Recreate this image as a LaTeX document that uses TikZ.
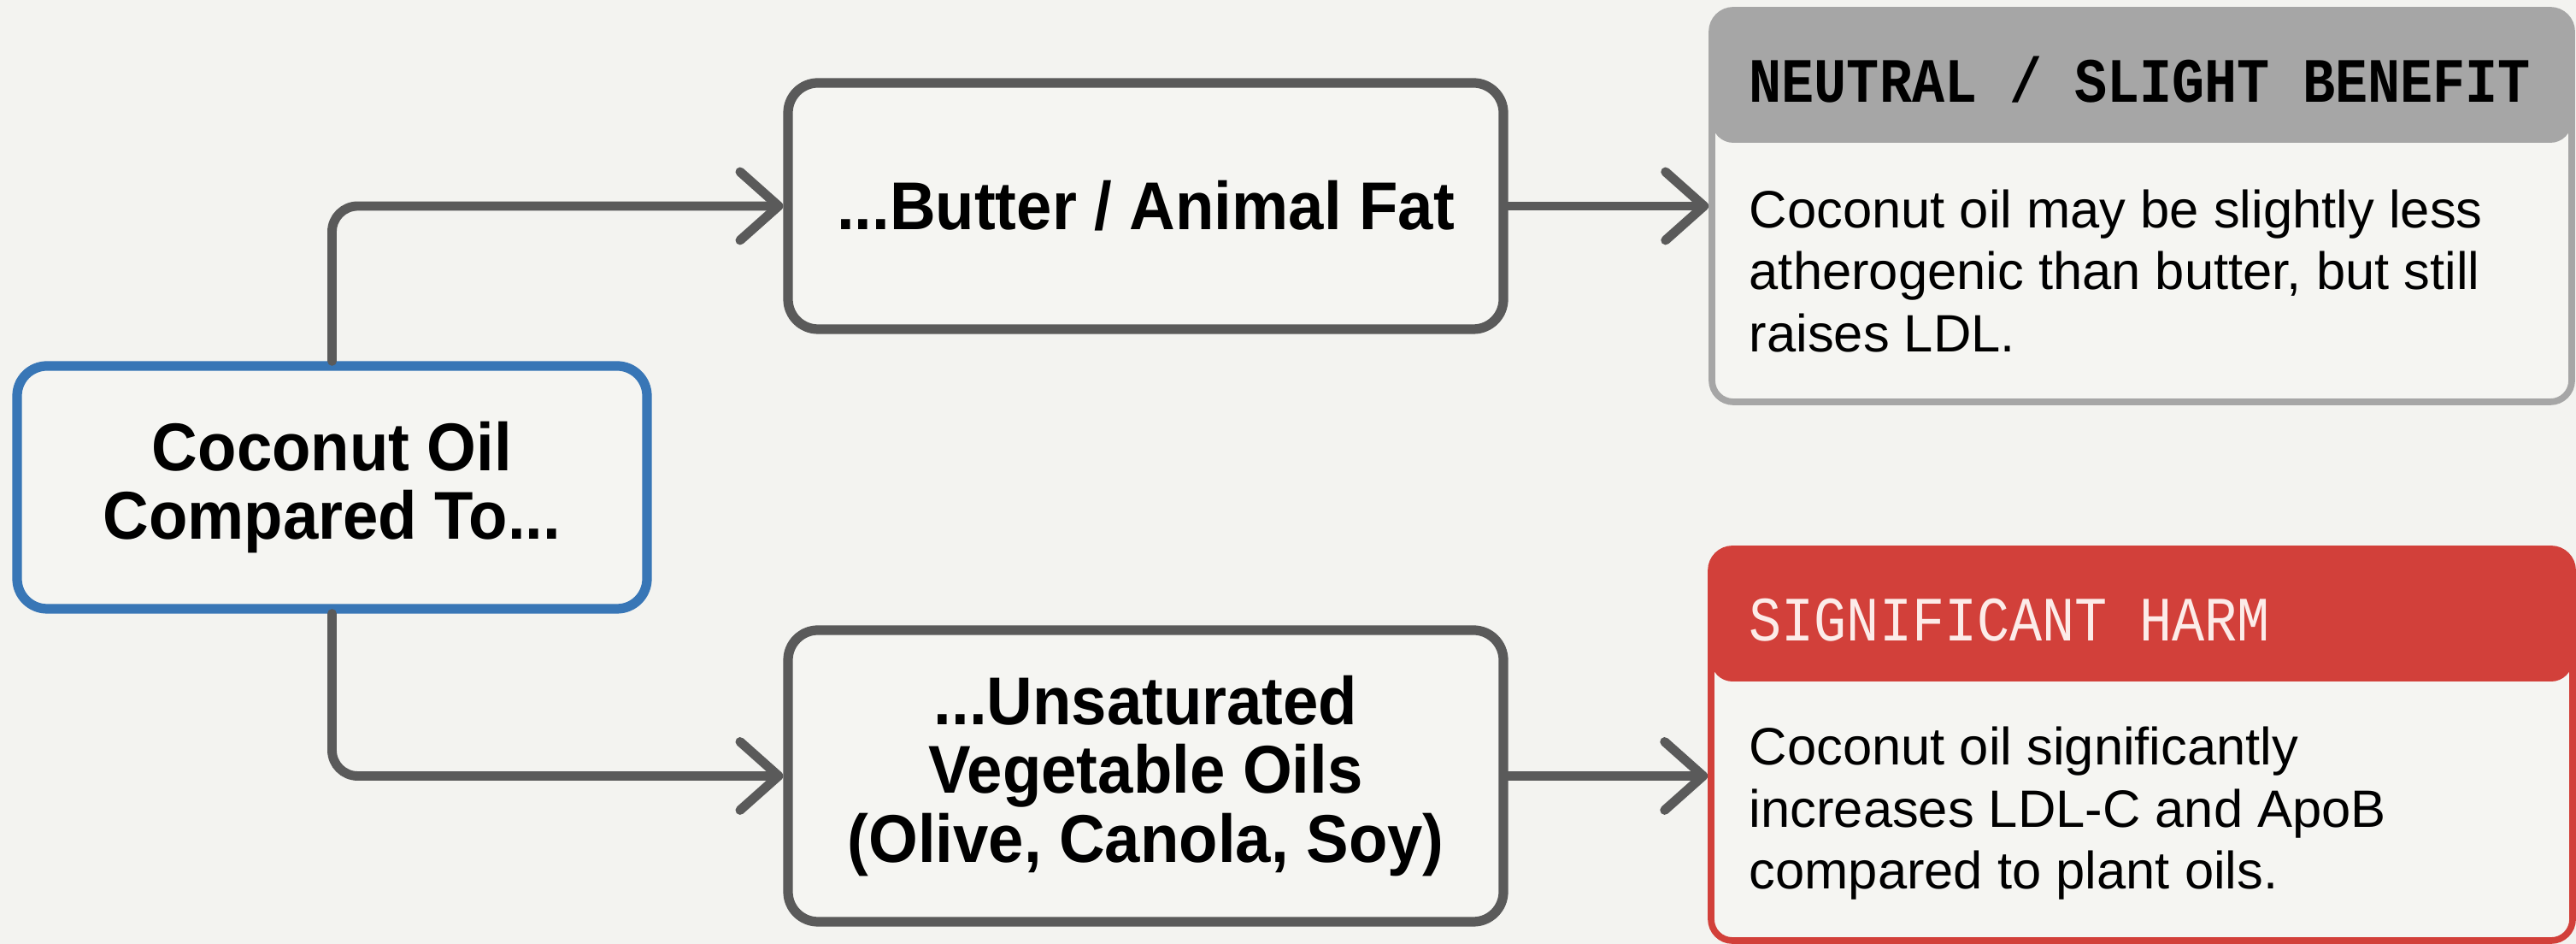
\documentclass[tikz,border=0pt]{standalone}
\usepackage{fontspec}
\setmainfont{Liberation Sans}
\newfontfamily\ttlfont[FakeStretch=0.94]{Liberation Sans}
\newfontfamily\hdfont[FakeStretch=0.86]{Liberation Mono}
\usetikzlibrary{arrows.meta}
\definecolor{bgcol}{RGB}{243,243,240}
\definecolor{boxfill}{RGB}{245,245,242}
\definecolor{linegray}{RGB}{90,90,90}
\definecolor{srcblue}{RGB}{56,118,182}
\definecolor{neutgray}{RGB}{166,166,166}
\definecolor{harmred}{RGB}{210,64,58}
\definecolor{harmhead}{RGB}{252,236,233}
\tikzset{
  stepbox/.style={draw=linegray, line width=3.2pt, fill=boxfill, rounded corners=0.35cm,
    align=center, inner sep=0pt, font=\ttlfont\bfseries\fontsize{22.5}{23}\selectfont},
  resbox/.style={draw=#1, line width=2.2pt, fill=boxfill, rounded corners=0.25cm,
    minimum width=10.06cm, minimum height=4.58cm,
    path picture={\fill[#1] (path picture bounding box.north west) rectangle
      ([yshift=-1.55cm]path picture bounding box.north east);}},
  hdtext/.style={anchor=base west, inner sep=0pt, font=\hdfont\bfseries\fontsize{21}{24}\selectfont},
  bodytext/.style={anchor=west, align=left, inner sep=0pt, font=\fontsize{17.5}{20.6}\selectfont},
  conn/.style={draw=linegray, line width=3.1pt, rounded corners=0.3cm, line cap=round, ->}
}

\begin{document}
\begin{tikzpicture}[>={Straight Barb[length=4.5mm,width=8mm,round]}]
\fill[bgcol] (0,0) rectangle (30.14,11.04);
\useasboundingbox (0,0) rectangle (30.14,11.04);
\node[stepbox, draw=srcblue, minimum width=7.37cm, minimum height=2.84cm] (src) at (3.885,5.34) {Coconut Oil\\Compared To...};
\node[stepbox, minimum width=8.37cm, minimum height=2.88cm] (butter) at (13.405,8.63) {...Butter / Animal Fat};
\node[stepbox, minimum width=8.37cm, minimum height=3.41cm] (veg) at (13.405,1.965) {...Unsaturated\\Vegetable Oils\\(Olive, Canola, Soy)};
\node[resbox=neutgray] (neutral) at (25.06,8.63) {};
\node[resbox=harmred, minimum width=10.08cm] (harm) at (25.06,2.33) {};
\node[hdtext] (neutralhd) at (20.46,9.84) {NEUTRAL / SLIGHT BENEFIT};
\node[hdtext, font=\hdfont\fontsize{21}{24}\selectfont, text=harmhead] (harmhd) at (20.46,3.54) {SIGNIFICANT HARM};
\node[bodytext] (neutraltxt) at (20.46,7.87) {Coconut oil may be slightly less\\atherogenic than butter, but still\\raises LDL.};
\node[bodytext] (harmtxt) at (20.46,1.525) {Coconut oil significantly\\increases LDL-C and ApoB\\compared to plant oils.};
\draw[conn] (src.north) |- (butter.west);
\draw[conn] (src.south) |- (veg.west);
\draw[conn] (butter.east) -- (butter.east -| neutral.west);
\draw[conn] (veg.east) -- (veg.east -| harm.west);
\end{tikzpicture}
\end{document}
